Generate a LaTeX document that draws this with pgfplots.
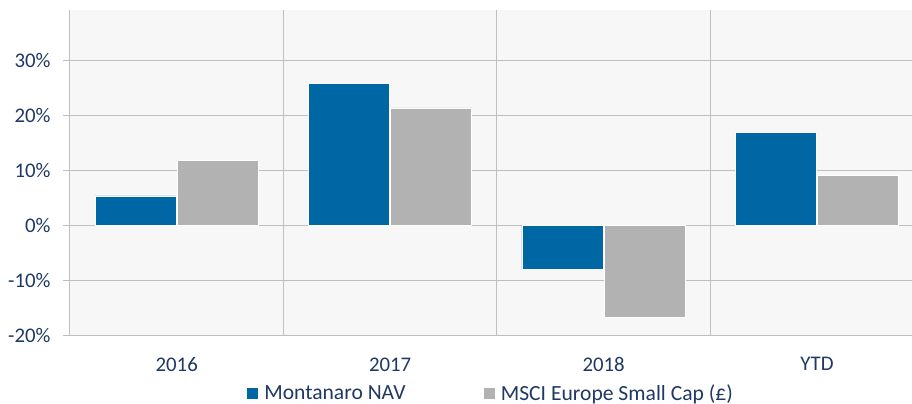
\documentclass[border=0pt]{standalone}
\usepackage{fontspec}
\setmainfont{Carlito}
\usepackage{pgfplots}
\pgfplotsset{compat=1.18}
\definecolor{navy}{HTML}{1F3864}
\definecolor{mblue}{HTML}{0067A5}
\definecolor{mgray}{HTML}{B2B2B2}
\definecolor{gridc}{HTML}{BFBFBF}
\definecolor{bgc}{HTML}{F7F7F7}
\begin{document}
\begin{tikzpicture}
\useasboundingbox (-70bp,-69bp) rectangle (842bp,335bp);
\begin{axis}[
  at={(0,0)}, anchor=south west,
  scale only axis, width=842bp, height=325bp,
  ymin=-20, ymax=39.1, xmin=-0.5, xmax=3.445,
  ybar=1bp, bar width=0.38,
  axis background/.style={fill=bgc},
  xtick={0,1,2,3}, xticklabels={2016,2017,2018,YTD},
  minor xtick={0.5,1.5,2.5}, xminorgrids, ymajorgrids,
  ytick={-20,-10,0,10,20,30},
  yticklabels={-20\%,-10\%,0\%,10\%,20\%,30\%},
  axis x line*=bottom, axis y line*=left,
  axis line style={gridc, line width=1bp},
  x axis line style={-},
  y axis line style={-},
  grid style={gridc, line width=1bp},
  minor grid style={gridc, line width=1bp},
  x tick style={draw=none},
  y tick style={gridc, line width=1bp},
  tick align=outside, major tick length=7bp,
  ticklabel style={font=\fontsize{20.8bp}{24bp}\selectfont, text=navy},
  yticklabel style={xshift=-9bp},
  xticklabel style={yshift=-12bp},
  legend style={at={(0.5,-0.1785)}, anchor=center, draw=none, fill=none,
    font=\fontsize{21.6bp}{25bp}\selectfont, text=navy,
    /tikz/every even column/.append style={column sep=76bp}},
  legend columns=2,
  legend image code/.code={\fill[#1,draw=none] (0bp,-5.5bp) rectangle (11bp,5.5bp); \path (15bp,0bp);},
]
\addplot[fill=mblue, draw=white, line width=0.6bp] coordinates {(0,5.3) (1,25.8) (2,-8.0) (3,16.9)};
\addplot[fill=mgray, draw=white, line width=0.6bp] coordinates {(0,11.8) (1,21.3) (2,-16.7) (3,9.0)};
\legend{Montanaro NAV, MSCI Europe Small Cap (£)}
\end{axis}
\end{tikzpicture}
\end{document}
